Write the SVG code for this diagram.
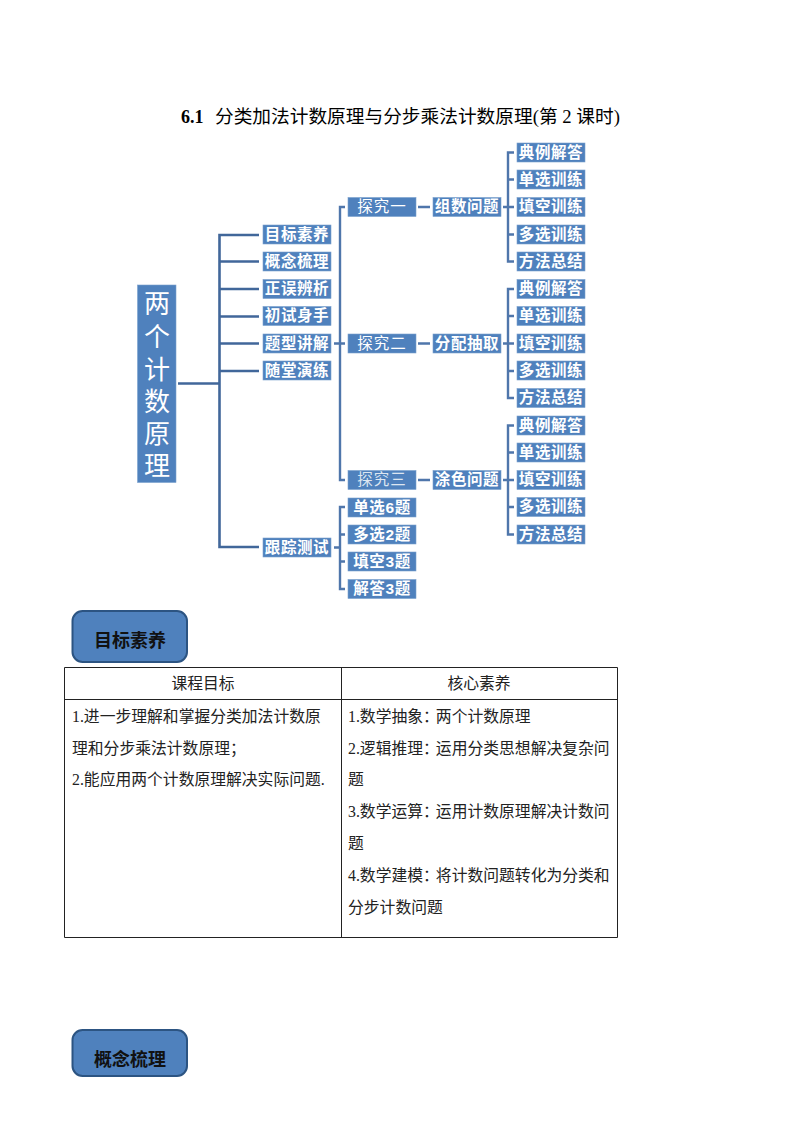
<svg xmlns="http://www.w3.org/2000/svg" width="794" height="1123" viewBox="0 0 794 1123">
<style>
text{font-family:"Liberation Serif","Noto Sans CJK SC",serif}
.b{fill:#4f81bd;stroke:#7ba0cd;stroke-width:.6}
.l{font-family:"Liberation Sans","Noto Sans CJK SC",sans-serif;font-size:15.5px;font-weight:700;fill:#fff;text-anchor:middle;letter-spacing:.6px;transform:translateY(-.5px)}
.e{font-weight:400;letter-spacing:1px}
.thin{font-weight:400;fill:#dde6f1;letter-spacing:1px}
.c{fill:none;stroke:#41679a;stroke-width:2.6}
.c2{fill:none;stroke:#4f76ab;stroke-width:2.4}
.btn{fill:#4f81bd;stroke:#2c5482;stroke-width:2}
.bt{font-family:"Liberation Sans","Noto Sans CJK SC",sans-serif;font-size:18px;font-weight:700;fill:#111;text-anchor:middle}
.t{font-size:15.8px;fill:#222}
.m{text-anchor:middle}
.g{fill:none;stroke:#222;stroke-width:1}
</style>
<text id="title" x="181" y="123" font-size="18.700"><tspan font-size="18" font-weight="700">6.1</tspan><tspan x="215">分类加法计数原理与分步乘法计数原理(第 2 课时)</tspan></text>
<g id="connectors">
<path class="c" d="M178 383.500H219.500M259 235H219.500V547H259M219.500 261.500H259M219.500 289H259M219.500 316.500H259M219.500 343.500H259M219.500 371H259"/>
<path class="c2" d="M345 207H340V480H345M334 343.500H345M418 207H430M418 343.500H430M418 480H430"/>
<path class="c2" d="M514 152.500H508V261.500H514M508 179.500H514M503 207H514M508 234.500H514"/>
<path class="c2" d="M514 289H508V398H514M508 316H514M503 343.500H514M508 371H514"/>
<path class="c2" d="M514 425.500H508V534.500H514M508 452.500H514M503 480H514M508 507H514"/>
<path class="c2" d="M345 507H340V589H345M334 547.500H340M340 534.500H345M340 561.500H345"/>
</g>
<g id="root"><rect class="b" x="137.500" y="285" width="38.500" height="197.500"/>
<g font-size="26" fill="#fff" text-anchor="middle"><text x="157" y="313">两</text><text x="157" y="346">个</text><text x="157" y="379">计</text><text x="157" y="411">数</text><text x="157" y="443">原</text><text x="157" y="475">理</text></g></g>
<g id="n1"><rect class="b" x="263" y="225" width="68" height="19"/><text class="l" x="297" y="240">目标素养</text></g>
<g id="n2"><rect class="b" x="263" y="252" width="68" height="19"/><text class="l" x="297" y="267">概念梳理</text></g>
<g id="n3"><rect class="b" x="263" y="279.500" width="68" height="19"/><text class="l" x="297" y="294.500">正误辨析</text></g>
<g id="n4"><rect class="b" x="263" y="306.500" width="68" height="19"/><text class="l" x="297" y="321.500">初试身手</text></g>
<g id="n5"><rect class="b" x="263" y="334" width="68" height="19"/><text class="l" x="297" y="349">题型讲解</text></g>
<g id="n6"><rect class="b" x="263" y="361" width="68" height="19"/><text class="l" x="297" y="376">随堂演练</text></g>
<g id="n7"><rect class="b" x="263" y="538" width="68" height="19"/><text class="l" x="297" y="553">跟踪测试</text></g>
<g id="e1"><rect class="b" x="348" y="197.500" width="68" height="19"/><text class="l e" x="382" y="212.500">探究一</text></g>
<g id="e2"><rect class="b" x="348" y="334" width="68" height="19"/><text class="l e" x="382" y="349">探究二</text></g>
<g id="e3"><rect class="b" x="348" y="470.500" width="68" height="19"/><text class="l thin" x="382" y="485.500">探究三</text></g>
<g id="p1"><rect class="b" x="433" y="197.500" width="68" height="19"/><text class="l" x="467" y="212.500">组数问题</text></g>
<g id="p2"><rect class="b" x="433" y="334" width="68" height="19"/><text class="l" x="467" y="349">分配抽取</text></g>
<g id="p3"><rect class="b" x="433" y="470.500" width="68" height="19"/><text class="l" x="467" y="485.500">涂色问题</text></g>
<g id="a1"><rect class="b" x="517" y="143" width="68" height="19"/><text class="l" x="551" y="158">典例解答</text></g>
<g id="a2"><rect class="b" x="517" y="170" width="68" height="19"/><text class="l" x="551" y="185">单选训练</text></g>
<g id="a3"><rect class="b" x="517" y="197.500" width="68" height="19"/><text class="l" x="551" y="212.500">填空训练</text></g>
<g id="a4"><rect class="b" x="517" y="225" width="68" height="19"/><text class="l" x="551" y="240">多选训练</text></g>
<g id="a5"><rect class="b" x="517" y="252" width="68" height="19"/><text class="l" x="551" y="267">方法总结</text></g>
<g id="b1"><rect class="b" x="517" y="279.500" width="68" height="19"/><text class="l" x="551" y="294.500">典例解答</text></g>
<g id="b2"><rect class="b" x="517" y="306.500" width="68" height="19"/><text class="l" x="551" y="321.500">单选训练</text></g>
<g id="b3"><rect class="b" x="517" y="334" width="68" height="19"/><text class="l" x="551" y="349">填空训练</text></g>
<g id="b4"><rect class="b" x="517" y="361" width="68" height="19"/><text class="l" x="551" y="376">多选训练</text></g>
<g id="b5"><rect class="b" x="517" y="388.500" width="68" height="19"/><text class="l" x="551" y="403.500">方法总结</text></g>
<g id="c1"><rect class="b" x="517" y="416" width="68" height="19"/><text class="l" x="551" y="431">典例解答</text></g>
<g id="c2"><rect class="b" x="517" y="443" width="68" height="19"/><text class="l" x="551" y="458">单选训练</text></g>
<g id="c3"><rect class="b" x="517" y="470.500" width="68" height="19"/><text class="l" x="551" y="485.500">填空训练</text></g>
<g id="c4"><rect class="b" x="517" y="497.500" width="68" height="19"/><text class="l" x="551" y="512.500">多选训练</text></g>
<g id="c5"><rect class="b" x="517" y="525" width="68" height="19"/><text class="l" x="551" y="540">方法总结</text></g>
<g id="t1"><rect class="b" x="348" y="498" width="68" height="19"/><text class="l" x="382" y="513">单选6题</text></g>
<g id="t2"><rect class="b" x="348" y="525" width="68" height="19"/><text class="l" x="382" y="540">多选2题</text></g>
<g id="t3"><rect class="b" x="348" y="552" width="68" height="19"/><text class="l" x="382" y="567">填空3题</text></g>
<g id="t4"><rect class="b" x="348" y="579.500" width="68" height="19"/><text class="l" x="382" y="594.500">解答3题</text></g>
<g id="btn1"><rect class="btn" x="72.500" y="611" width="114.500" height="51" rx="10"/><text class="bt" x="130" y="647">目标素养</text></g>
<g id="btn2"><rect class="btn" x="72.500" y="1030" width="114.500" height="46" rx="10"/><text class="bt" x="130" y="1066">概念梳理</text></g>
<g id="table">
<path class="g" d="M64.500 667.500H617.500V937.500H64.500ZM64.500 699.500H617.500M341.500 667.500V937.500"/>
<text class="t m" x="203" y="689">课程目标</text><text class="t m" x="479" y="689">核心素养</text>
<text class="t" x="72" y="722">1.进一步理解和掌握分类加法计数原</text>
<text class="t" x="72" y="754">理和分步乘法计数原理；</text>
<text class="t" x="72" y="785">2.能应用两个计数原理解决实际问题.</text>
<text class="t" x="348" y="722">1.数学抽象：<tspan dx="-3">两个计数原理</tspan></text>
<text class="t" x="348" y="754">2.逻辑推理：<tspan dx="-3">运用分类思想解决复杂问</tspan></text>
<text class="t" x="348" y="785">题</text>
<text class="t" x="348" y="817">3.数学运算：<tspan dx="-3">运用计数原理解决计数问</tspan></text>
<text class="t" x="348" y="849">题</text>
<text class="t" x="348" y="881">4.数学建模：<tspan dx="-3">将计数问题转化为分类和</tspan></text>
<text class="t" x="348" y="913">分步计数问题</text>
</g>
</svg>
